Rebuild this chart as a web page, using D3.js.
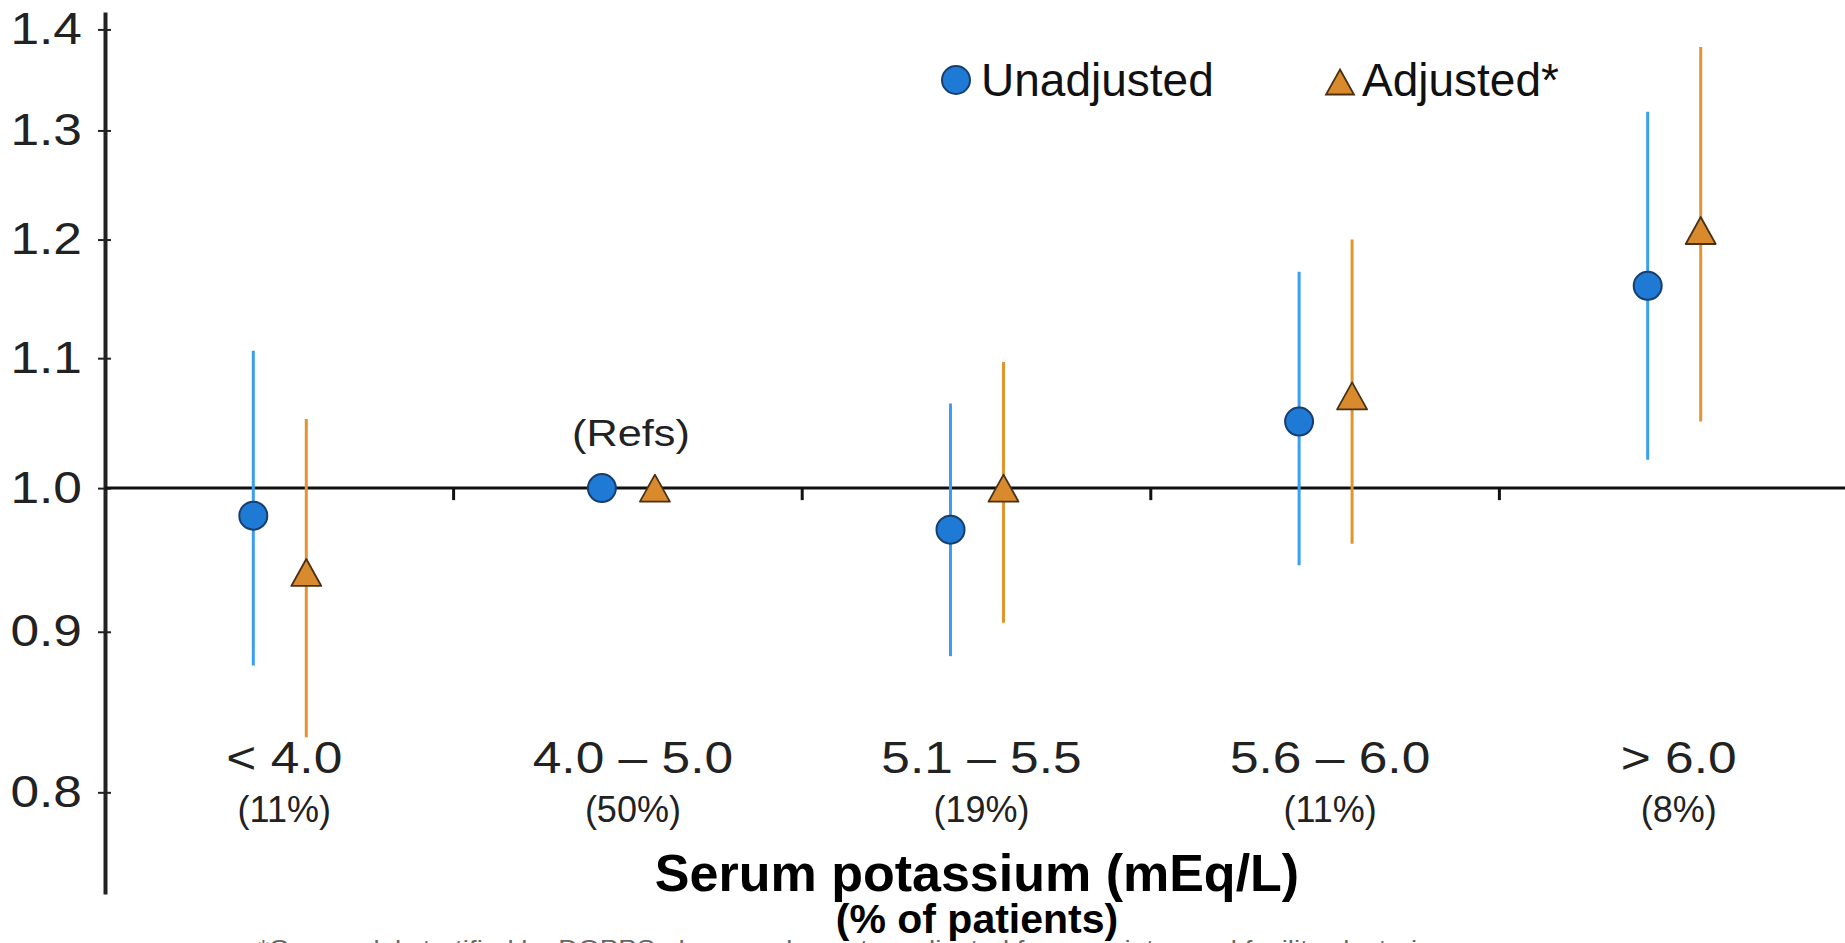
<!DOCTYPE html>
<html>
<head>
<meta charset="utf-8">
<script src="https://cdn.jsdelivr.net/npm/d3@7"></script>
<style>
  html, body { margin: 0; padding: 0; background: #fff; }
  svg { display: block; font-family: "Liberation Sans", Arial, sans-serif; }
</style>
</head>
<body>
<svg id="chart" width="1845" height="943"></svg>
<script>
// categories and data
const categories = ["< 4.0", "4.0 \u2013 5.0", "5.1 \u2013 5.5", "5.6 \u2013 6.0", "> 6.0"];
const percents = ["(11%)", "(50%)", "(19%)", "(11%)", "(8%)"];
const seriesNames = ["Unadjusted", "Adjusted*"];

const unadjusted = [0.98, 1.00, 0.97, 1.05, 1.16];
const unadjLow   = [0.878, null, 0.884, 0.945, 1.021];
const unadjHigh  = [1.106, null, 1.064, 1.172, 1.318];

const adjusted = [0.94, 1.00, 1.00, 1.07, 1.208];
const adjLow   = [0.833, null, 0.906, 0.960, 1.050];
const adjHigh  = [1.052, null, 1.097, 1.200, 1.382];

const yTicks = [0.8, 0.9, 1.0, 1.1, 1.2, 1.3, 1.4];

document.addEventListener("DOMContentLoaded", function() {
    var svg = d3.select("#chart");

    const axisX = 105;
    const font = 44;
    const stretch = 1.17;   // the reference's labels are drawn a bit wide

    // scales
    const x = d3.scaleBand().domain(categories).range([axisX, 1848]);
    const offset = d3.scalePoint().domain(seriesNames).range([-26, 27]);
    const y = d3.scaleLog().domain([0.7425, 1.418]).range([894, 12]);

    // y axis
    const yAxis = svg.append("g")
        .attr("transform", `translate(${axisX},0)`)
        .call(d3.axisLeft(y).tickValues(yTicks).tickFormat(d3.format(".1f")).tickSize(7).tickSizeOuter(0).tickPadding(16));
    yAxis.select(".domain").attr("stroke", "#222").attr("stroke-width", 4);
    yAxis.selectAll(".tick line").attr("x2", 6).attr("x1", -7).attr("stroke", "#222").attr("stroke-width", 2);
    yAxis.selectAll(".tick text")
        .attr("x", -23 / stretch)
        .attr("transform", `scale(${stretch},1)`)
        .attr("font-size", font)
        .attr("fill", "#222")
        .attr("font-family", "Liberation Sans, Arial, sans-serif");

    // reference line at 1.0 with category boundary ticks
    svg.append("line")
        .attr("x1", axisX).attr("x2", 1845)
        .attr("y1", y(1)).attr("y2", y(1))
        .attr("stroke", "#111").attr("stroke-width", 3);

    svg.append("g").selectAll("line")
        .data(categories.slice(1))
        .join("line")
        .attr("x1", d => x(d)).attr("x2", d => x(d))
        .attr("y1", y(1)).attr("y2", y(1) + 12)
        .attr("stroke", "#111").attr("stroke-width", 3);

    // category labels
    const cx = d => x(d) + x.bandwidth() / 2 + 5;
    svg.append("g").selectAll("text")
        .data(categories)
        .join("text")
        .attr("transform", d => `translate(${cx(d)},773) scale(${stretch},1)`)
        .attr("text-anchor", "middle")
        .attr("font-size", font)
        .attr("fill", "#222")
        .text(d => d);

    svg.append("g").selectAll("text")
        .data(categories)
        .join("text")
        .attr("x", cx)
        .attr("y", 822)
        .attr("text-anchor", "middle")
        .attr("font-size", 36)
        .attr("fill", "#222")
        .text((d, i) => percents[i]);

    // error bars
    function bars(name, vals, lo, hi, color) {
        const rows = categories.map((c, i) => ({c: c, v: vals[i], lo: lo[i], hi: hi[i]}))
            .filter(d => d.lo != null);
        svg.append("g").selectAll("line")
            .data(rows)
            .join("line")
            .attr("x1", d => x(d.c) + x.bandwidth() / 2 + offset(name))
            .attr("x2", d => x(d.c) + x.bandwidth() / 2 + offset(name))
            .attr("y1", d => y(d.lo))
            .attr("y2", d => y(d.hi))
            .attr("stroke", color)
            .attr("stroke-width", 3);
    }
    bars("Unadjusted", unadjusted, unadjLow, unadjHigh, "#3a9ff0");
    bars("Adjusted*", adjusted, adjLow, adjHigh, "#e2952f");

    // triangle path centred on its bounding box
    const tri = (w, h) => `M0,${-h / 2}L${w / 2},${h / 2}L${-w / 2},${h / 2}Z`;

    // points
    svg.append("g").selectAll("circle")
        .data(unadjusted)
        .join("circle")
        .attr("cx", (d, i) => x(categories[i]) + x.bandwidth() / 2 + offset("Unadjusted"))
        .attr("cy", d => y(d))
        .attr("r", 14)
        .attr("fill", "#1f7ad6")
        .attr("stroke", "#173f6e")
        .attr("stroke-width", 2);

    svg.append("g").selectAll("path")
        .data(adjusted)
        .join("path")
        .attr("transform", (d, i) => `translate(${x(categories[i]) + x.bandwidth() / 2 + offset("Adjusted*")},${y(d)})`)
        .attr("d", tri(30, 27))
        .attr("fill", "#d98a2c")
        .attr("stroke", "#4a3015")
        .attr("stroke-width", 1.8)
        .attr("stroke-linejoin", "round");

    // (Refs) note
    svg.append("text")
        .attr("transform", `translate(${x(categories[1]) + x.bandwidth() / 2 + 3},446) scale(${stretch},1)`)
        .attr("text-anchor", "middle")
        .attr("font-size", 37)
        .attr("fill", "#222")
        .text("(Refs)");

    // legend
    const legend = svg.append("g");
    legend.append("circle")
        .attr("cx", 956).attr("cy", 80).attr("r", 14)
        .attr("fill", "#1f7ad6").attr("stroke", "#173f6e").attr("stroke-width", 2);
    legend.append("text")
        .attr("x", 981).attr("y", 96)
        .attr("font-size", 46).attr("fill", "#111")
        .text(seriesNames[0]);
    legend.append("path")
        .attr("transform", "translate(1340,82)")
        .attr("d", tri(28, 25))
        .attr("fill", "#d98a2c").attr("stroke", "#4a3015").attr("stroke-width", 1.8);
    legend.append("text")
        .attr("x", 1362).attr("y", 96)
        .attr("font-size", 46).attr("fill", "#111")
        .text(seriesNames[1]);

    // axis titles
    svg.append("text")
        .attr("x", 977).attr("y", 891)
        .attr("text-anchor", "middle")
        .attr("font-size", 52).attr("font-weight", "bold").attr("fill", "#000")
        .text("Serum potassium (mEq/L)");
    svg.append("text")
        .attr("x", 977).attr("y", 933)
        .attr("text-anchor", "middle")
        .attr("font-size", 41).attr("font-weight", "bold").attr("fill", "#000")
        .text("(% of patients)");

    // footnote, mostly cut off by the bottom edge
    svg.append("text")
        .attr("x", 258).attr("y", 957)
        .attr("font-size", 24).attr("fill", "#666")
        .attr("textLength", 1190).attr("lengthAdjust", "spacingAndGlyphs")
        .text("*Cox model stratified by DOPPS phase and country, adjusted for covariates and facility clustering");
});
</script>
</body>
</html>
